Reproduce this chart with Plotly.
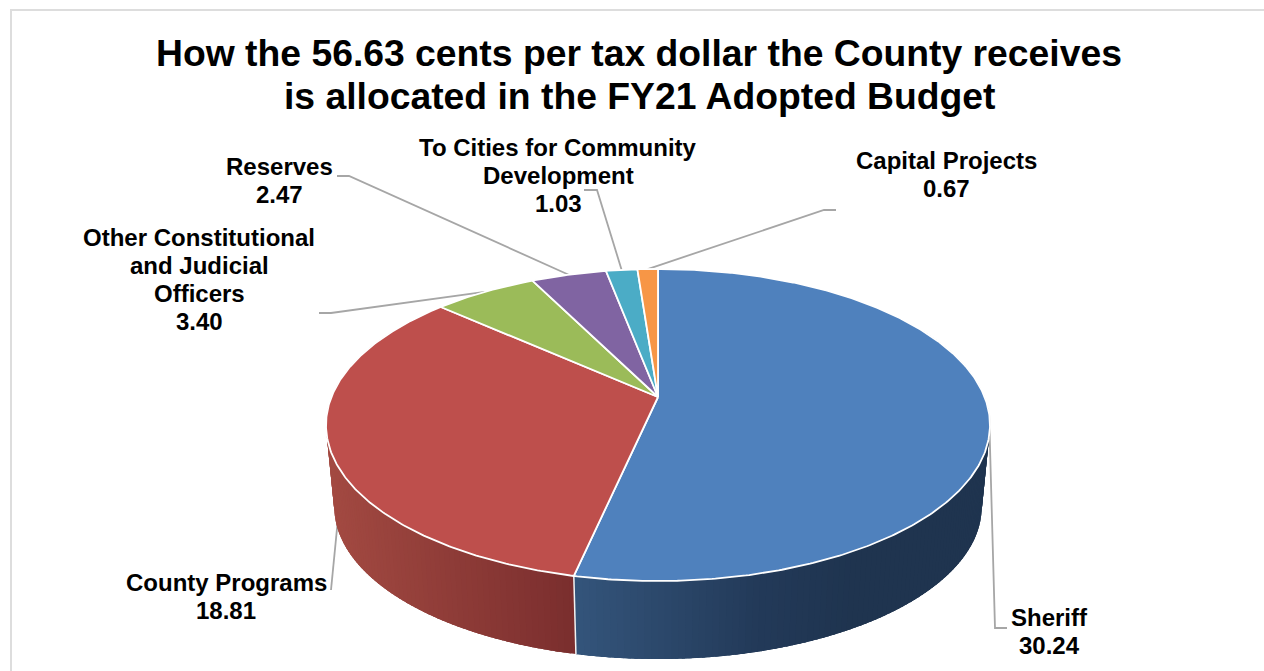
import numpy as np
import plotly.graph_objects as go

# Budget allocation, cents per tax dollar
categories = ["Sheriff", "County Programs", "Other Constitutional<br>and Judicial<br>Officers",
              "Reserves", "To Cities for Community<br>Development", "Capital Projects"]
values = [30.24, 18.81, 3.40, 2.47, 1.03, 0.67]
value_labels = ["30.24", "18.81", "3.40", "2.47", "1.03", "0.67"]
slice_colors = ["#4F81BD", "#BE4F4C", "#9BBB59", "#8064A2", "#4BACC6", "#F79646"]

title_lines = ["How the 56.63 cents per tax dollar the County receives",
               "is allocated in the FY21 Adopted Budget"]
title_y = [53, 96]

# Label anchors (centre of the first line) and leader elbows, in page pixels
label_x = [1049, 226, 199, 279, 558, 946]
label_y = [617, 582, 237, 166, 147, 160]
LINE_STEP = 28.3
leader_elbows = [
    [(1007, 628), (995, 628)],
    [(331, 590)],
    [(319, 313), (331, 313)],
    [(337, 176), (349, 176)],
    [(584, 190), (597, 190)],
    [(836, 210), (824, 210)],
]

# Perspective disc: a unit circle seen from above
CX, CY = 658.0, 397.0
F, G, K = 326.6, 151.0, 0.1795
LOWER_SCALE, LOWER_CY = 0.975, 479.6

BLUE_WALL = ([576, 760, 860, 990], ["#34557B", "#233A59", "#1F344F", "#1F344F"])
RED_WALL = ([328, 576], ["#A34A42", "#7A2E2E"])


def rim(theta, scale=1.0, cy=CY):
    """Page position of a rim point, theta in degrees clockwise from the top."""
    t = np.radians(theta)
    u, v = np.sin(t), np.cos(t)
    d = 1 + K * v
    return CX + scale * F * u / d, cy - scale * G * v / d


def wall_color(stops, x):
    xs, hexes = stops
    rgb = np.array([[int(h[i:i + 2], 16) for i in (1, 3, 5)] for h in hexes], float)
    return "rgb(%d,%d,%d)" % tuple(np.interp(x, xs, rgb[:, c]) for c in range(3))


def polygon(xs, ys, fill, line_color, line_width):
    return go.Scatter(x=list(xs), y=list(ys), mode="lines", fill="toself", fillcolor=fill,
                      line=dict(color=line_color, width=line_width), hoverinfo="skip",
                      showlegend=False)


def bold_text(x, y, text, size):
    fig.add_annotation(x=x, y=y, xref="x", yref="y", text=f"<b>{text}</b>", showarrow=False,
                       xanchor="center", yanchor="middle",
                       font=dict(family="Liberation Sans", size=size, color="#000000"))


total = sum(values)
edges = np.concatenate([[0], np.cumsum(values)]) / total * 360
mids = (edges[:-1] + edges[1:]) / 2

fig = go.Figure()

# Leader lines run from each label to the rim at the middle of its slice
for i, elbow in enumerate(leader_elbows):
    end = rim(mids[i])
    if i == 1:
        end = (345, 447)
    pts = elbow + [end]
    fig.add_trace(go.Scatter(x=[p[0] for p in pts], y=[p[1] for p in pts], mode="lines",
                             line=dict(color="#A6A6A6", width=1.8), hoverinfo="skip",
                             showlegend=False))

# Shaded side wall: overlapping opaque strips, each covered in part by the next.
# The strip list includes the slice boundary so both colours meet exactly there.
step = 1.0
strip_starts = np.sort(np.append(np.arange(60, 300, step), edges[1]))
for a in strip_starts:
    in_blue = a < edges[1]
    b = min(a + 2.5 * step, edges[1]) if in_blue else a + 2.5 * step
    ts = np.array([a, (a + b) / 2, b])
    ux, uy = rim(ts)
    lx, ly = rim(ts[::-1], LOWER_SCALE, LOWER_CY)
    stops = BLUE_WALL if in_blue else RED_WALL
    c = wall_color(stops, float(np.mean(ux[:2])))
    xs = np.concatenate([ux, lx, ux[:1]])
    ys = np.concatenate([uy, ly, uy[:1]])
    fig.add_trace(go.Scatter(x=xs, y=ys, mode="none", fill="toself", fillcolor=c,
                             hoverinfo="skip", showlegend=False))

# White seam on the wall where the two large slices meet
sx0, sy0 = rim(edges[1])
sx1, sy1 = rim(edges[1], LOWER_SCALE, LOWER_CY)
fig.add_trace(go.Scatter(x=[sx0, sx1], y=[sy0, sy1], mode="lines",
                         line=dict(color="#F2F2F2", width=1.5), hoverinfo="skip", showlegend=False))

# Top face slices
for i in range(len(values)):
    thetas = np.linspace(edges[i], edges[i + 1], max(int(edges[i + 1] - edges[i]) * 2, 6))
    rx, ry = rim(thetas)
    xs = np.concatenate([[CX], rx, [CX]])
    ys = np.concatenate([[CY], ry, [CY]])
    fig.add_trace(polygon(xs, ys, slice_colors[i], "#FFFFFF", 1.8))

# Category and value labels, one annotation per line for exact leading
for i, cat in enumerate(categories):
    for j, line in enumerate(cat.split("<br>") + [value_labels[i]]):
        bold_text(label_x[i], label_y[i] + j * LINE_STEP, line, 24)

for line, y in zip(title_lines, title_y):
    bold_text(639, y, line, 37.3)

# Chart frame: top and left edges
frame = dict(type="line", xref="x", yref="y", line=dict(color="#DDDDDD", width=2))
fig.add_shape(x0=10, y0=10, x1=1264, y1=10, **frame)
fig.add_shape(x0=11, y0=10, x1=11, y1=671, **frame)

fig.update_layout(
    width=1264, height=671, margin=dict(l=0, r=0, t=0, b=0),
    paper_bgcolor="white", plot_bgcolor="white", showlegend=False,
    xaxis=dict(range=[0, 1264], visible=False, fixedrange=True),
    yaxis=dict(range=[671, 0], visible=False, fixedrange=True),
)

fig.write_html("out.html", config=dict(displayModeBar=False))
